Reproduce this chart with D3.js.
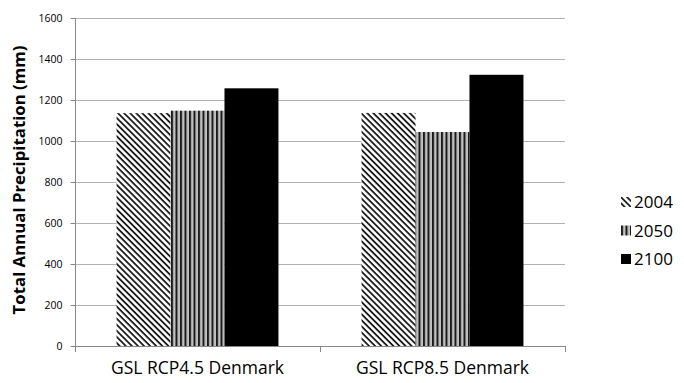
<!DOCTYPE html>
<html><head><meta charset="utf-8">
<script src="https://cdn.jsdelivr.net/npm/d3@7"></script>
<style>body{margin:0;background:#fff}svg{display:block}</style>
</head><body>
<script>
const categories = ["GSL RCP4.5 Denmark", "GSL RCP8.5 Denmark"];
const seriesNames = ["2004", "2050", "2100"];
const values2004 = [1136, 1137];
const values2050 = [1148, 1044];
const values2100 = [1257, 1323];
const yTicks = [0, 200, 400, 600, 800, 1000, 1200, 1400, 1600];

(function () {
const W = 684, H = 383;
const svg = d3.select("body").append("svg").attr("width", W).attr("height", H);
const defs = svg.append("defs");
const diag = defs.append("pattern").attr("id", "pDiag").attr("patternUnits", "userSpaceOnUse")
  .attr("width", 4.3).attr("height", 4.3).attr("patternTransform", "rotate(45)");
diag.append("rect").attr("width", 4.3).attr("height", 4.3).attr("fill", "#fff");
diag.append("rect").attr("x", 0).attr("y", 0).attr("width", 4.3).attr("height", 1.8).attr("fill", "#1a1a1a");
const vert = defs.append("pattern").attr("id", "pVert").attr("patternUnits", "userSpaceOnUse")
  .attr("width", 4.5).attr("height", 4);
vert.append("rect").attr("width", 4.5).attr("height", 4).attr("fill", "#c0c0c0");
vert.append("rect").attr("x", 0).attr("width", 2).attr("height", 4).attr("fill", "#1a1a1a");
const fills = ["url(#pDiag)", "url(#pVert)", "#000"];

const mLeft = 75, mRight = 565, mTop = 18, mBottom = 346;
const x = d3.scaleBand().domain(categories).range([mLeft, mRight]);
const xs = d3.scaleBand().domain(seriesNames).range([0, x.bandwidth()]).paddingOuter(0.77).paddingInner(0);
const y = d3.scaleLinear().domain([0, 1600]).range([mBottom, mTop]);

svg.append("g").selectAll("line").data(yTicks.slice(1)).join("line")
  .attr("x1", mLeft).attr("x2", mRight).attr("y1", d => y(d) + 0.5).attr("y2", d => y(d) + 0.5)
  .attr("stroke", "#b3b3b3").attr("stroke-width", 1);

const series = [values2004, values2050, values2100];
seriesNames.forEach((s, i) => {
  svg.append("g").selectAll("rect").data(categories).join("rect")
    .attr("x", c => x(c) + xs(s))
    .attr("y", (c, j) => y(series[i][j]))
    .attr("width", xs.bandwidth())
    .attr("height", (c, j) => mBottom - y(series[i][j]))
    .attr("fill", fills[i]);
});

const yAxis = d3.axisLeft(y).tickValues(yTicks).tickSize(5).tickPadding(8).tickFormat(d3.format("d"));
const gy = svg.append("g").attr("transform", `translate(${mLeft + 0.5},0)`).call(yAxis);
gy.select(".domain").attr("stroke", "#888").attr("d", `M0,${mTop}V${mBottom}`);
gy.selectAll(".tick line").attr("stroke", "#888");
gy.selectAll(".tick text").attr("font-family", "Open Sans, sans-serif").attr("font-size", 10.5).attr("fill", "#000");

const xAxis = d3.axisBottom(x).tickSize(0).tickFormat(d => d);
const gx = svg.append("g").attr("transform", `translate(0,${mBottom + 0.5})`).call(xAxis);
gx.select(".domain").attr("stroke", "#888").attr("d", `M${mLeft},0H${mRight}`);
gx.selectAll(".tick text").attr("font-family", "Open Sans, sans-serif").attr("font-size", 17.5).attr("fill", "#000").attr("dy", "1.42em");
svg.append("g").selectAll("line").data([mLeft, x(categories[1]), mRight]).join("line")
  .attr("x1", d => d + 0.5).attr("x2", d => d + 0.5).attr("y1", mBottom).attr("y2", mBottom + 6)
  .attr("stroke", "#888");

svg.append("text").attr("transform", `translate(25,180) rotate(-90)`)
  .attr("text-anchor", "middle").attr("font-family", "Open Sans, sans-serif").attr("font-weight", "bold")
  .attr("font-size", 16.8).attr("fill", "#000").text("Total Annual Precipitation (mm)");

const lg = svg.append("g").attr("transform", "translate(621,202)");
seriesNames.forEach((s, i) => {
  const g = lg.append("g").attr("transform", `translate(0,${i * 28.5})`);
  g.append("rect").attr("x", 0).attr("y", -5).attr("width", 10).attr("height", 10).attr("fill", fills[i]);
  g.append("text").attr("x", 13).attr("y", 0).attr("dy", "0.36em").attr("font-family", "Open Sans, sans-serif")
    .attr("font-size", 17).attr("fill", "#000").text(s);
});
})();
</script>
</body></html>
